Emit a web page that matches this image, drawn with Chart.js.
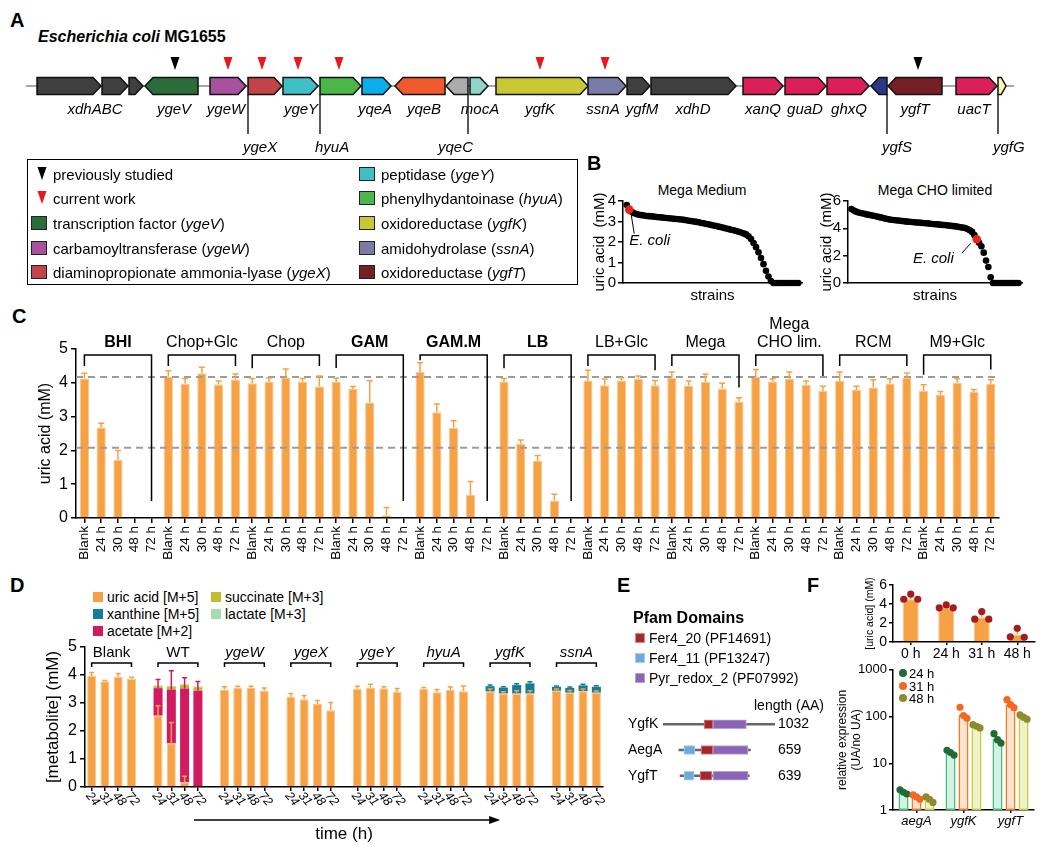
<!DOCTYPE html>
<html><head><meta charset="utf-8">
<script src="https://cdn.jsdelivr.net/npm/chart.js@4.4.1/dist/chart.umd.min.js"></script>
<style>
html,body{margin:0;padding:0;background:#fff;}
body{width:1050px;height:852px;position:relative;overflow:hidden;font-family:'Liberation Sans',Arial,sans-serif;color:#000;}
canvas{position:absolute;}
.t{position:absolute;white-space:nowrap;line-height:1;}
.sw{position:absolute;box-sizing:border-box;}
</style></head><body>
<script>
// ================= DATA =================
// Panel A – gene neighbourhood (map units)
const geneNames  = ['xdhA','xdhB','xdhC','ygeV','ygeW','ygeX','ygeY','hyuA','yqeA','yqeB','yqeC','mocA','ygfK','ssnA','ygfM','xdhD','xanQ','guaD','ghxQ','ygfS','ygfT','uacT','ygfG'];
const geneStart  = [37,102,129,145,210,248,283,320,362,395,446,470,496,588,627,651,743,785,827,871,888,956,998];
const geneEnd    = [101,128,143,198,246,282,318,361,391,445,468,488,588,626,650,736,783,826,869,887,942,997,1006];
const geneStrand = [1,1,1,-1,1,1,1,1,1,-1,-1,1,1,1,1,1,1,1,1,-1,-1,1,1];
const geneColor  = ['#3f3f3f','#3f3f3f','#3f3f3f','#2a6d3a','#a8519f','#c2444a','#3fbfc6','#4cb748','#0aaeea','#f15a2c','#ababab','#8fd5ca','#c9c834','#7b7ba8','#3f3f3f','#3f3f3f','#da1f5b','#da1f5b','#da1f5b','#2b3888','#741f24','#da1f5b','#fdf7b4'];
const trackRange = [26,1014];
const labelText  = ['xdhABC','ygeV','ygeW','ygeY','yqeA','yqeB','mocA','ygfK','ssnA','ygfM','xdhD','xanQ','guaD','ghxQ','ygfT','uacT'];
const labelPos   = [95,174,226,301,375,424,480,540,603,642,693,763,805,849,915,974];
const leaderText = ['ygeX','hyuA','yqeC','ygfS','ygfG'];
const leaderPos  = [248,320,468,887,998];
const leaderSide = ['r','r','l','r','r'];
const markerPos  = [175,228,262,298,339,540,605,918];
const markerKind = ['prev','cur','cur','cur','cur','cur','cur','prev'];
const legendLeftText  = ['previously studied','current work','transcription factor (<i>ygeV</i>)','carbamoyltransferase (<i>ygeW</i>)','diaminopropionate ammonia-lyase (<i>ygeX</i>)'];
const legendLeftIcon  = ['tri:#000','tri:#e8181c','#2a6d3a','#a8519f','#c2444a'];
const legendRightText = ['peptidase (<i>ygeY</i>)','phenylhydantoinase (<i>hyuA</i>)','oxidoreductase (<i>ygfK</i>)','amidohydrolase (<i>ssnA</i>)','oxidoreductase (<i>ygfT</i>)'];
const legendRightIcon = ['#3fbfc6','#4cb748','#c9c834','#7b7ba8','#741f24'];

// Panel B – ranked strains
const megaMedium = [3.80,3.58,3.47,3.40,3.36,3.33,3.31,3.29,3.27,3.26,3.25,3.24,3.22,3.21,3.20,3.18,3.17,3.16,3.15,3.13,3.12,3.11,3.10,3.08,3.06,3.04,3.02,3.00,2.98,2.96,2.93,2.91,2.88,2.86,2.83,2.80,2.78,2.75,2.72,2.69,2.66,2.63,2.60,2.57,2.54,2.50,2.46,2.42,2.37,2.28,2.15,1.95,1.75,1.50,1.22,0.92,0.60,0.32,0.10,0,0,0,0,0,0,0,0,0,0,0];
const megaCHO = [5.42,5.30,5.22,5.16,5.12,5.08,5.04,5.00,4.97,4.93,4.90,4.86,4.82,4.78,4.74,4.70,4.66,4.63,4.61,4.59,4.57,4.55,4.53,4.51,4.49,4.48,4.46,4.45,4.43,4.42,4.40,4.39,4.37,4.36,4.34,4.32,4.30,4.29,4.27,4.25,4.24,4.22,4.20,4.18,4.16,4.14,4.11,4.08,4.05,4.02,3.95,3.86,3.74,3.50,3.20,2.95,2.69,2.22,1.64,1.17,0.42,0,0,0,0,0,0,0,0,0,0,0,0];
const ecoliIdxMedium = 1;
const ecoliIdxCHO = 54;

// Panel C – uric acid per medium
const cGroups = ['BHI','Chop+Glc','Chop','GAM','GAM.M','LB','LB+Glc','Mega',['Mega','CHO lim.'],'RCM','M9+Glc'];
const cBold   = [true,false,false,true,true,true,false,false,false,false,false];
const cTimes  = ['Blank','24 h','30 h','48 h','72 h'];
const cUric = [4.13,2.68,1.72,0,0, 4.18,3.97,4.28,3.95,4.10, 3.99,4.02,4.16,4.02,3.89, 4.02,3.82,3.42,0.08,0, 4.32,3.13,2.67,0.68,0, 4.02,2.20,1.69,0.52,0, 4.05,3.93,4.07,4.12,3.93, 4.14,3.92,4.02,3.83,3.45, 4.17,4.04,4.12,3.94,3.76, 4.05,3.79,3.86,3.98,4.15, 3.76,3.64,4.00,3.73,3.97];
const cErr  = [0.15,0.12,0.28,0,0, 0.18,0.16,0.18,0.10,0.16, 0.14,0.12,0.25,0.11,0.31, 0.12,0.07,0.64,0.23,0, 0.27,0.24,0.21,0.40,0, 0.11,0.11,0.16,0.18,0, 0.32,0.18,0.08,0.08,0.14, 0.18,0.13,0.23,0.16,0.11, 0.22,0.08,0.20,0.11,0.14, 0.27,0.11,0.23,0.14,0.14, 0.18,0.10,0.12,0.07,0.12];
const cRefLines = [4.17,2.08];

// Panel D – labelled metabolites
const dGroups = ['Blank','WT','ygeW','ygeX','ygeY','hyuA','ygfK','ssnA'];
const dItalic = [false,false,true,true,true,true,true,true];
const dTimes  = ['24','31','48','72'];
const dUric    = [3.96,3.78,3.93,3.87, 2.55,1.56,0.17,0, 3.48,3.55,3.54,3.44, 3.21,3.13,2.96,2.74, 3.51,3.55,3.53,3.40, 3.51,3.38,3.46,3.42, 3.41,3.34,3.34,3.34, 3.44,3.37,3.42,3.37];
const dUricErr = [0.13,0.02,0.12,0.05, 0.35,0.74,0.21,0, 0.10,0.05,0.06,0.10, 0.13,0.14,0.13,0.28, 0.09,0.12,0.05,0.12, 0.04,0.10,0.11,0.19, 0.09,0.06,0.10,0.10, 0.06,0.08,0.08,0.06];
const dXan     = [0,0,0,0, 0,0,0,0, 0,0,0,0, 0,0,0,0, 0,0,0,0, 0,0,0,0, 0.19,0.21,0.30,0.36, 0.14,0.17,0.21,0.21];
const dXanErr  = [0,0,0,0, 0,0,0,0, 0,0,0,0, 0,0,0,0, 0,0,0,0, 0,0,0,0, 0.04,0.03,0.05,0.06, 0.03,0.03,0.04,0.04];
const dAce     = [0,0,0,0, 0.98,1.92,3.35,3.44, 0,0,0,0, 0,0,0,0, 0,0,0,0, 0,0,0,0, 0,0,0,0, 0,0,0,0];
const dAceErr  = [0,0,0,0, 0.31,0.67,0.38,0.33, 0,0,0,0, 0,0,0,0, 0,0,0,0, 0,0,0,0, 0,0,0,0, 0,0,0,0];
const dSuc     = [0,0,0,0, 0.07,0.10,0.12,0.12, 0,0,0,0, 0,0,0,0, 0,0,0,0, 0,0,0,0, 0,0,0,0, 0,0,0,0];
const dLac     = [0,0,0,0, 0.03,0.03,0.03,0.03, 0,0,0,0, 0,0,0,0, 0,0,0,0, 0,0,0,0, 0,0,0,0, 0,0,0,0];
const dSeriesNames  = ['uric acid [M+5]','xanthine [M+5]','acetate [M+2]','succinate [M+3]','lactate [M+3]'];
const dSeriesColors = ['#f7a145','#137d99','#d21a62','#bfbf2c','#a9dcac'];

// Panel E – Pfam domains (aa)
const eProteins = ['YgfK','AegA','YgfT'];
const eLength   = [1032,659,639];
const eAlign    = [0,147,157];
const eDomNames = ['Fer4_20 (PF14691)','Fer4_11 (PF13247)','Pyr_redox_2 (PF07992)'];
const eDomColor = ['#a4282b','#6fa8dc','#8a64b6'];
const eDomEdge  = ['#d98a8a','#a9ccee','#b9a2d8'];
const eFer4_20  = [[378,461],[203,313],[184,295]];
const eFer4_11  = [null,[46,147],[37,129]];
const ePyr      = [[461,768],[313,636],[304,627]];

// Panel F
const fTopCats = ['0 h','24 h','31 h','48 h'];
const fTopMean = [4.5,3.6,2.6,0.8];
const fTopErr  = [0.3,0.2,0.45,0.55];
const fTopReps = [[4.5,5.05,4.5],[3.6,3.9,3.6],[2.4,3.2,2.4],[0.55,1.45,0.5]];
const fTopTicks = [0,2,4,6];
const fGenes = ['aegA','ygfK','ygfT'];
const fTimes = ['24 h','31 h','48 h'];
const f24 = [2.4,16.5,33];
const f31 = [1.95,110,180];
const f48 = [1.6,60,100];
const fReps24 = [[2.7,2.4,2.2],[19,17,15],[43,32,27]];
const fReps31 = [[2.1,1.9,1.7],[158,105,92],[230,180,155]];
const fReps48 = [[1.9,1.7,1.45],[67,62,57],[108,97,88]];
const fLogTicks = [1,10,100,1000];
const fPointColor = ['#1f6b35','#f26a21','#8c8c2e'];
const fEdgeColor  = ['#3dbe7b','#f47b20','#c8cb3e'];
const fFillColor  = ['rgba(61,190,123,0.22)','rgba(244,123,32,0.22)','rgba(200,203,62,0.28)'];

// ================= SETUP =================
const FAM = "'Liberation Sans', Arial, sans-serif";
const F = (size, pre='') => `${pre} ${size}px ${FAM}`.trim();
Chart.defaults.font.family = FAM;
Chart.defaults.color = '#000';
Chart.defaults.animation = false;
Chart.defaults.responsive = false;
Chart.defaults.devicePixelRatio = 1;
Chart.defaults.events = [];
Chart.defaults.plugins.legend.display = false;
Chart.defaults.plugins.tooltip.enabled = false;

function canvasAt(l,t,w,h){const c=document.createElement('canvas');c.width=w;c.height=h;c.style.left=l+'px';c.style.top=t+'px';document.body.appendChild(c);return c;}
function txt(s,x,y,o={}){const d=document.createElement('div');d.className='t';d.innerHTML=s;d.style.left=x+'px';d.style.top=y+'px';d.style.fontSize=(o.size||14)+'px';if(o.bold)d.style.fontWeight='bold';if(o.italic)d.style.fontStyle='italic';const tx=o.align==='center'?'-50%':(o.align==='right'?'-100%':'0');d.style.transform=`translate(${tx},-50%)`;document.body.appendChild(d);return d;}
function box(x,y,w,h,css){const d=document.createElement('div');d.className='sw';d.style.left=x+'px';d.style.top=y+'px';d.style.width=w+'px';d.style.height=h+'px';Object.assign(d.style,css||{});document.body.appendChild(d);return d;}
function tri(x,y,color){const d=document.createElement('div');d.className='sw';d.style.left=x+'px';d.style.top=y+'px';d.innerHTML=`<svg width="10" height="14"><polygon points="0.5,0 9.5,0 5,13" fill="${color}"/></svg>`;document.body.appendChild(d);}
const BORDER = {display:true,color:'#000',width:1.5};
const GRID = (tl=5, extra={}) => Object.assign({display:true,drawOnChartArea:false,drawTicks:true,tickLength:tl,color:'#000',lineWidth:1.5,offset:false},extra);
function errBar(ctx,x,y0,y1,color,cap=6,lw=1.5){ctx.save();ctx.strokeStyle=color;ctx.lineWidth=lw;ctx.beginPath();ctx.moveTo(x,y0);ctx.lineTo(x,y1);ctx.moveTo(x-cap/2,y1);ctx.lineTo(x+cap/2,y1);ctx.stroke();ctx.restore();}

// ================= PANEL A =================
txt('A',10,20,{size:20,bold:true});
txt('<i>Escherichia coli</i> MG1655',38,37,{size:16,bold:true});
const genePlugin = {id:'genes', afterDraw(chart){
  const ctx=chart.ctx, X=v=>chart.scales.x.getPixelForValue(v), Y=v=>chart.scales.y.getPixelForValue(v);
  const trackY=Y(86), top=Y(77.5), bot=Y(94.5);
  ctx.save();
  ctx.strokeStyle='#8a8a8a'; ctx.lineWidth=1.5;
  ctx.beginPath(); ctx.moveTo(X(trackRange[0]),trackY); ctx.lineTo(X(trackRange[1]),trackY); ctx.stroke();
  geneNames.forEach((g,i)=>{
    const x1=X(geneStart[i]), x2=X(geneEnd[i]); const head=Math.min(8,(x2-x1)*0.6);
    ctx.beginPath();
    if(geneStrand[i]>0){ctx.moveTo(x1,top);ctx.lineTo(x2-head,top);ctx.lineTo(x2,trackY);ctx.lineTo(x2-head,bot);ctx.lineTo(x1,bot);}
    else {ctx.moveTo(x2,top);ctx.lineTo(x1+head,top);ctx.lineTo(x1,trackY);ctx.lineTo(x1+head,bot);ctx.lineTo(x2,bot);}
    ctx.closePath(); ctx.fillStyle=geneColor[i]; ctx.fill(); ctx.strokeStyle='#111'; ctx.lineWidth=1.5; ctx.stroke();
  });
  markerPos.forEach((m,i)=>{const x=X(m);ctx.beginPath();ctx.moveTo(x-4.5,Y(57));ctx.lineTo(x+4.5,Y(57));ctx.lineTo(x,Y(70));ctx.closePath();ctx.fillStyle=markerKind[i]==='prev'?'#000':'#e8181c';ctx.fill();});
  ctx.fillStyle='#000'; ctx.font=F(15,'italic'); ctx.textAlign='center'; ctx.textBaseline='middle';
  labelText.forEach((l,i)=>ctx.fillText(l,X(labelPos[i]),Y(110)));
  leaderText.forEach((l,i)=>{const x=X(leaderPos[i]);ctx.strokeStyle='#000';ctx.lineWidth=1.3;ctx.beginPath();ctx.moveTo(x,bot);ctx.lineTo(x,Y(134));ctx.stroke();
    ctx.textAlign=leaderSide[i]==='r'?'left':'right'; ctx.fillText(l, leaderSide[i]==='r'?x-5:x+5, Y(148));});
  ctx.restore();
}};
new Chart(canvasAt(0,0,1050,160),{type:'scatter',data:{datasets:[{data:[]}]},options:{layout:{padding:0,autoPadding:false},scales:{x:{type:'linear',min:0,max:1050,display:false},y:{type:'linear',min:0,max:160,reverse:true,display:false}}},plugins:[genePlugin]});
// legend box
box(27,159,551,126,{border:'1.5px solid #000'});
const legRows=[174,198,223,248,272];
legendLeftText.forEach((s,i)=>{const ic=legendLeftIcon[i]; if(ic.startsWith('tri:')) tri(37,legRows[i]-7,ic.slice(4)); else box(31,legRows[i]-7,16,14,{background:ic,border:'1.5px solid #222'}); txt(s,53,legRows[i],{size:15});});
legendRightText.forEach((s,i)=>{box(359,legRows[i]-7,16,14,{background:legendRightIcon[i],border:'1.5px solid #222'}); txt(s,381,legRows[i],{size:15});});

// ================= PANEL B =================
txt('B',587,163,{size:20,bold:true});
txt('Mega Medium',702,190,{size:14,align:'center'});
txt('Mega CHO limited',935,190,{size:14,align:'center'});
function ecoliNote(dx1,dy1,dx2,dy2,tx,ty,align){return {id:'ecoli',afterDatasetsDraw(chart){const p=chart.getDatasetMeta(0).data[0];const ctx=chart.ctx;ctx.save();ctx.strokeStyle='#000';ctx.lineWidth=1;ctx.beginPath();ctx.moveTo(p.x+dx1,p.y+dy1);ctx.lineTo(p.x+dx2,p.y+dy2);ctx.stroke();ctx.fillStyle='#000';ctx.font=F(15,'italic');ctx.textAlign=align;ctx.textBaseline='middle';ctx.fillText('E. coli',p.x+tx,p.y+ty);ctx.restore();}};}
function strainChart(cv,values,eIdx,yMax,yStep,yW,padR,note){
  return new Chart(cv,{type:'scatter',data:{datasets:[
    {data:[{x:eIdx,y:values[eIdx]}],pointRadius:4.3,backgroundColor:'#e8241c',borderWidth:0,clip:false},
    {data:values.map((v,i)=>({x:i,y:v})),pointRadius:3.3,backgroundColor:'#000',borderWidth:0,clip:false}]},
  options:{layout:{padding:{top:8,right:padR,left:0,bottom:0},autoPadding:false},
    scales:{x:{type:'linear',min:-1.5,max:values.length+0.5,ticks:{display:false},grid:{display:false},border:BORDER,title:{display:true,text:'strains',font:{size:15},padding:0,color:'#000'},afterFit:s=>{s.height=22;}},
            y:{type:'linear',min:0,max:yMax,ticks:{stepSize:yStep,autoSkip:false,font:{size:15},padding:2,color:'#000'},grid:GRID(5),border:BORDER,title:{display:true,text:'uric acid  (mM)',font:{size:15},padding:0,color:'#000'},afterFit:s=>{s.width=yW;}}}},
  plugins:[note]});
}
strainChart(canvasAt(591,190,215,115),megaMedium,ecoliIdxMedium,4,1,32,4,ecoliNote(2,5,5,24,0,31,'left'));
strainChart(canvasAt(818,190,208,115),megaCHO,ecoliIdxCHO,6,2,30,4,ecoliNote(-6,4,-15,14,-23,20,'right'));

// ================= PANEL C =================
txt('C',12,316,{size:20,bold:true});
const cLabels=[]; cGroups.forEach(()=>cTimes.forEach(t=>cLabels.push(t)));
const cPlugin={id:'cExtras',afterDatasetsDraw(chart){
  const {ctx,chartArea:a}=chart, x=chart.scales.x, y=chart.scales.y;
  ctx.save(); ctx.setLineDash([7,5]); ctx.strokeStyle='#9c9c9c'; ctx.lineWidth=2;
  cRefLines.forEach(v=>{const py=y.getPixelForValue(v);ctx.beginPath();ctx.moveTo(a.left,py);ctx.lineTo(a.right,py);ctx.stroke();});
  ctx.restore();
  cUric.forEach((v,i)=>{if(cErr[i]>0){errBar(ctx,x.getPixelForValue(i),y.getPixelForValue(v),y.getPixelForValue(v+cErr[i]),'#f7a145',6);}});
  const leg=(i)=>{const top=cUric[i]+cErr[i]; return top===0?0.5:Math.max(Math.min(4.5,top+0.3),top+0.08);};
  ctx.save(); ctx.strokeStyle='#000'; ctx.lineWidth=1.5; ctx.fillStyle='#000'; ctx.textAlign='center'; ctx.textBaseline='middle';
  cGroups.forEach((g,k)=>{const i0=k*5,i1=k*5+4; const x1=x.getPixelForValue(i0),x2=x.getPixelForValue(i1); const yb=y.getPixelForValue(4.82);
    ctx.beginPath(); ctx.moveTo(x1,y.getPixelForValue(leg(i0))); ctx.lineTo(x1,yb); ctx.lineTo(x2,yb); ctx.lineTo(x2,y.getPixelForValue(leg(i1))); ctx.stroke();
    ctx.font=F(16,cBold[k]?'bold':''); const ly=y.getPixelForValue(5.18);
    if(Array.isArray(g)){ctx.fillText(g[0],(x1+x2)/2,ly-18);ctx.fillText(g[1],(x1+x2)/2,ly);} else ctx.fillText(g,(x1+x2)/2,ly);
  });
  ctx.restore();
}};
new Chart(canvasAt(36,300,974,283),{type:'bar',data:{labels:cLabels,datasets:[{data:cUric,backgroundColor:'#f7a145',borderColor:'#fbc58a',borderWidth:1,barPercentage:0.55,categoryPercentage:1}]},
  options:{layout:{padding:{top:49,right:5,left:0,bottom:0},autoPadding:false},
    scales:{x:{ticks:{autoSkip:false,maxRotation:90,minRotation:90,font:{size:13.5},padding:3,color:'#000'},grid:GRID(5),border:BORDER,afterFit:s=>{s.height=65;}},
            y:{min:0,max:5,ticks:{stepSize:1,autoSkip:false,font:{size:16},padding:3,color:'#000'},grid:GRID(5),border:BORDER,title:{display:true,text:'uric acid (mM)',font:{size:16},padding:0,color:'#000'},afterFit:s=>{s.width=40;}}}},
  plugins:[cPlugin]});

// ================= PANEL D =================
txt('D',10,585,{size:20,bold:true});
const dLegPos=[[93,597],[93,614],[93,631],[211,597],[211,614]];
dSeriesNames.forEach((n,i)=>{const [sx,sy]=dLegPos[i]; box(sx,sy-5,10,10,{background:dSeriesColors[i]}); txt(n,sx+14,sy,{size:14});});
const dLabels=[], dMap=[];
dGroups.forEach((g,k)=>{dTimes.forEach((t,j)=>{dMap.push(dLabels.length);dLabels.push(t);}); if(k<dGroups.length-1) dLabels.push('');});
const dExpand=arr=>{const out=dLabels.map(()=>null); arr.forEach((v,i)=>{out[dMap[i]]=v;}); return out;};
const dPlugin={id:'dExtras',afterDatasetsDraw(chart){
  const ctx=chart.ctx, x=chart.scales.x, y=chart.scales.y;
  dUric.forEach((v,i)=>{const px=x.getPixelForValue(dMap[i]);
    if(dAce[i]>0&&dAceErr[i]>0){const t=v+dAce[i];errBar(ctx,px,y.getPixelForValue(t),y.getPixelForValue(t+dAceErr[i]),'#d21a62',5);}
    if(dXan[i]>0&&dXanErr[i]>0){const t=v+dXan[i];errBar(ctx,px,y.getPixelForValue(t),y.getPixelForValue(t+dXanErr[i]),'#137d99',5);}
    if(dUricErr[i]>0) errBar(ctx,px,y.getPixelForValue(v),y.getPixelForValue(v+dUricErr[i]),'#f7a145',5);
  });
  ctx.save(); ctx.strokeStyle='#000'; ctx.lineWidth=1.5; ctx.fillStyle='#000';
  dGroups.forEach((g,k)=>{const x1=x.getPixelForValue(dMap[k*4]),x2=x.getPixelForValue(dMap[k*4+3]);const yb=y.getPixelForValue(4.43),yl=y.getPixelForValue(4.29);
    ctx.beginPath();ctx.moveTo(x1,yl);ctx.lineTo(x1,yb);ctx.lineTo(x2,yb);ctx.lineTo(x2,yl);ctx.stroke();
    ctx.font=F(15,dItalic[k]?'italic':'');ctx.textAlign='center';ctx.textBaseline='middle';ctx.fillText(g,(x1+x2)/2,y.getPixelForValue(4.78));});
  // rotated tick labels
  ctx.font=F(12.5,'italic'); ctx.textAlign='center'; ctx.textBaseline='middle';
  dLabels.forEach((l,i)=>{if(!l)return;const px=x.getPixelForValue(i);ctx.save();ctx.translate(px+1,x.top+12);ctx.rotate(50*Math.PI/180);ctx.fillText(l,0,0);ctx.restore();});
  // time arrow
  const ax1=x.getPixelForValue(dMap[7])-4, ax2=x.getPixelForValue(dMap[24])+10, ay=x.top+33;
  ctx.beginPath();ctx.moveTo(ax1,ay);ctx.lineTo(ax2-8,ay);ctx.stroke();
  ctx.beginPath();ctx.moveTo(ax2,ay);ctx.lineTo(ax2-11,ay-4);ctx.lineTo(ax2-11,ay+4);ctx.closePath();ctx.fill();
  ctx.restore();
}};
const dDatasets=[[dUric,0],[dXan,1],[dAce,2],[dSuc,3],[dLac,4]].map(([arr,ci])=>({data:dExpand(arr),backgroundColor:dSeriesColors[ci],borderColor:ci===0?'#fbc58a':dSeriesColors[ci],borderWidth:ci===0?1:0,barPercentage:0.68,categoryPercentage:1,stack:'s'}));
new Chart(canvasAt(43,630,567,215),{type:'bar',data:{labels:dLabels,datasets:dDatasets},
  options:{layout:{padding:{top:17,right:7,left:0,bottom:0},autoPadding:false},
    scales:{x:{stacked:true,ticks:{display:false},grid:GRID(4,{color:c=>dLabels[c.index]===''?'rgba(0,0,0,0)':'#000'}),border:BORDER,title:{display:true,text:'time (h)',font:{size:17},padding:0,color:'#000'},afterFit:s=>{s.height=58;}},
            y:{stacked:true,min:0,max:5,ticks:{stepSize:1,autoSkip:false,font:{size:16},padding:3,color:'#000'},grid:GRID(5),border:BORDER,title:{display:true,text:'[metabolite] (mM)',font:{size:17},padding:0,color:'#000'},afterFit:s=>{s.width=42;}}}},
  plugins:[dPlugin]});

// ================= PANEL E =================
txt('E',617,585,{size:20,bold:true});
txt('Pfam Domains',633,618,{size:16,bold:true});
const eLegRows=[638,658,678];
eDomNames.forEach((n,i)=>{box(635,eLegRows[i]-5,10,10,{background:eDomColor[i],border:'1px solid '+eDomEdge[i]}); txt(n,649,eLegRows[i],{size:14});});
txt('length (AA)',754,705,{size:14});
const eShift=arr=>arr.map((d,i)=>d?[eAlign[i]+d[0],eAlign[i]+d[1]]:null);
new Chart(canvasAt(628,700,182,100),{type:'bar',data:{labels:eProteins,datasets:[
    {data:eShift(eFer4_11),backgroundColor:eDomColor[1],borderColor:eDomEdge[1],borderWidth:1,borderSkipped:false,barThickness:9,grouped:false},
    {data:eShift(eFer4_20),backgroundColor:eDomColor[0],borderColor:eDomEdge[0],borderWidth:1,borderSkipped:false,barThickness:9,grouped:false},
    {data:eShift(ePyr),backgroundColor:eDomColor[2],borderColor:eDomEdge[2],borderWidth:1,borderSkipped:false,barThickness:9,grouped:false},
    {data:eProteins.map((p,i)=>[eAlign[i],eAlign[i]+eLength[i]]),backgroundColor:'#666',borderWidth:0,barThickness:2,grouped:false}]},
  options:{indexAxis:'y',layout:{padding:{top:8.75,bottom:5.75,left:0,right:0},autoPadding:false},
    scales:{x:{type:'linear',min:0,max:eLength[0],display:false},
            y:{type:'category',position:'left',ticks:{crossAlign:'far',font:{size:14},padding:0,color:'#000'},grid:{display:false,drawTicks:false},border:{display:false},afterFit:s=>{s.width=35;}},
            y2:{type:'category',position:'right',labels:eLength.map(String),offset:true,ticks:{font:{size:14},padding:3,color:'#000'},grid:{display:false,drawTicks:false},border:{display:false},afterFit:s=>{s.width=35;}}}}});

// ================= PANEL F =================
txt('F',807,585,{size:20,bold:true});
const fTopPlugin={id:'fTop',afterDatasetsDraw(chart){const ctx=chart.ctx,x=chart.scales.x,y=chart.scales.y;
  fTopMean.forEach((m,i)=>{const px=x.getPixelForValue(i);errBar(ctx,px,y.getPixelForValue(m),y.getPixelForValue(m+fTopErr[i]),'#f7a145',6);
    fTopReps[i].forEach((r,j)=>{ctx.beginPath();ctx.arc(px+(j-1)*7,y.getPixelForValue(r),3.6,0,Math.PI*2);ctx.fillStyle='#a51c1c';ctx.fill();});});}};
new Chart(canvasAt(864,560,176,102),{type:'bar',data:{labels:fTopCats,datasets:[{data:fTopMean,backgroundColor:'#f7a145',borderColor:'#fbc58a',borderWidth:1,barPercentage:0.45,categoryPercentage:1}]},
  options:{layout:{padding:{top:25,right:5,left:0,bottom:0},autoPadding:false},
    scales:{x:{ticks:{font:{size:14},padding:1,color:'#000'},grid:GRID(3),border:BORDER,afterFit:s=>{s.height=20;}},
            y:{min:0,max:6,afterBuildTicks:s=>{s.ticks=fTopTicks.map(v=>({value:v}));},ticks:{autoSkip:false,font:{size:14},padding:2,color:'#000',callback:v=>String(v)},grid:GRID(4),border:BORDER,title:{display:true,text:'[uric acid] (mM)',font:{size:10.5},padding:0,color:'#000'},afterFit:s=>{s.width=29;}}}},
  plugins:[fTopPlugin]});
const fRepSets=[fReps24,fReps31,fReps48];
const fBotPlugin={id:'fBot',afterDatasetsDraw(chart){const ctx=chart.ctx,y=chart.scales.y;
  fRepSets.forEach((reps,d)=>{const meta=chart.getDatasetMeta(d);reps.forEach((rr,g)=>{const bx=meta.data[g].x;rr.forEach((r,j)=>{ctx.beginPath();ctx.arc(bx+(j-1)*3.5,y.getPixelForValue(r),3.6,0,Math.PI*2);ctx.fillStyle=fPointColor[d];ctx.fill();});});});}};
new Chart(canvasAt(835,660,205,170),{type:'bar',data:{labels:fGenes,datasets:[f24,f31,f48].map((arr,d)=>({data:arr,backgroundColor:fFillColor[d],borderColor:fEdgeColor[d],borderWidth:1.5,borderSkipped:false,barPercentage:0.77,categoryPercentage:0.83}))},
  options:{layout:{padding:{top:7,right:6,left:0,bottom:0},autoPadding:false},
    scales:{x:{ticks:{font:{size:13,style:'italic'},padding:1,color:'#000'},grid:GRID(3),border:BORDER,afterFit:s=>{s.height=20;}},
            y:{type:'logarithmic',min:1,max:1000,afterBuildTicks:s=>{s.ticks=fLogTicks.map(v=>({value:v,major:true}));},ticks:{autoSkip:false,font:{size:13},padding:2,color:'#000',callback:v=>String(v)},grid:GRID(4),border:BORDER,title:{display:true,text:['relative expression','(UA/no UA)'],font:{size:12},padding:0,color:'#000'},afterFit:s=>{s.width=58;}}}},
  plugins:[fBotPlugin]});
const fLegRows=[673,686,698];
fTimes.forEach((t,i)=>{box(899,fLegRows[i]-4,8,8,{background:fPointColor[i],borderRadius:'50%'}); txt(t,909,fLegRows[i],{size:13});});
</script>
</body></html>
